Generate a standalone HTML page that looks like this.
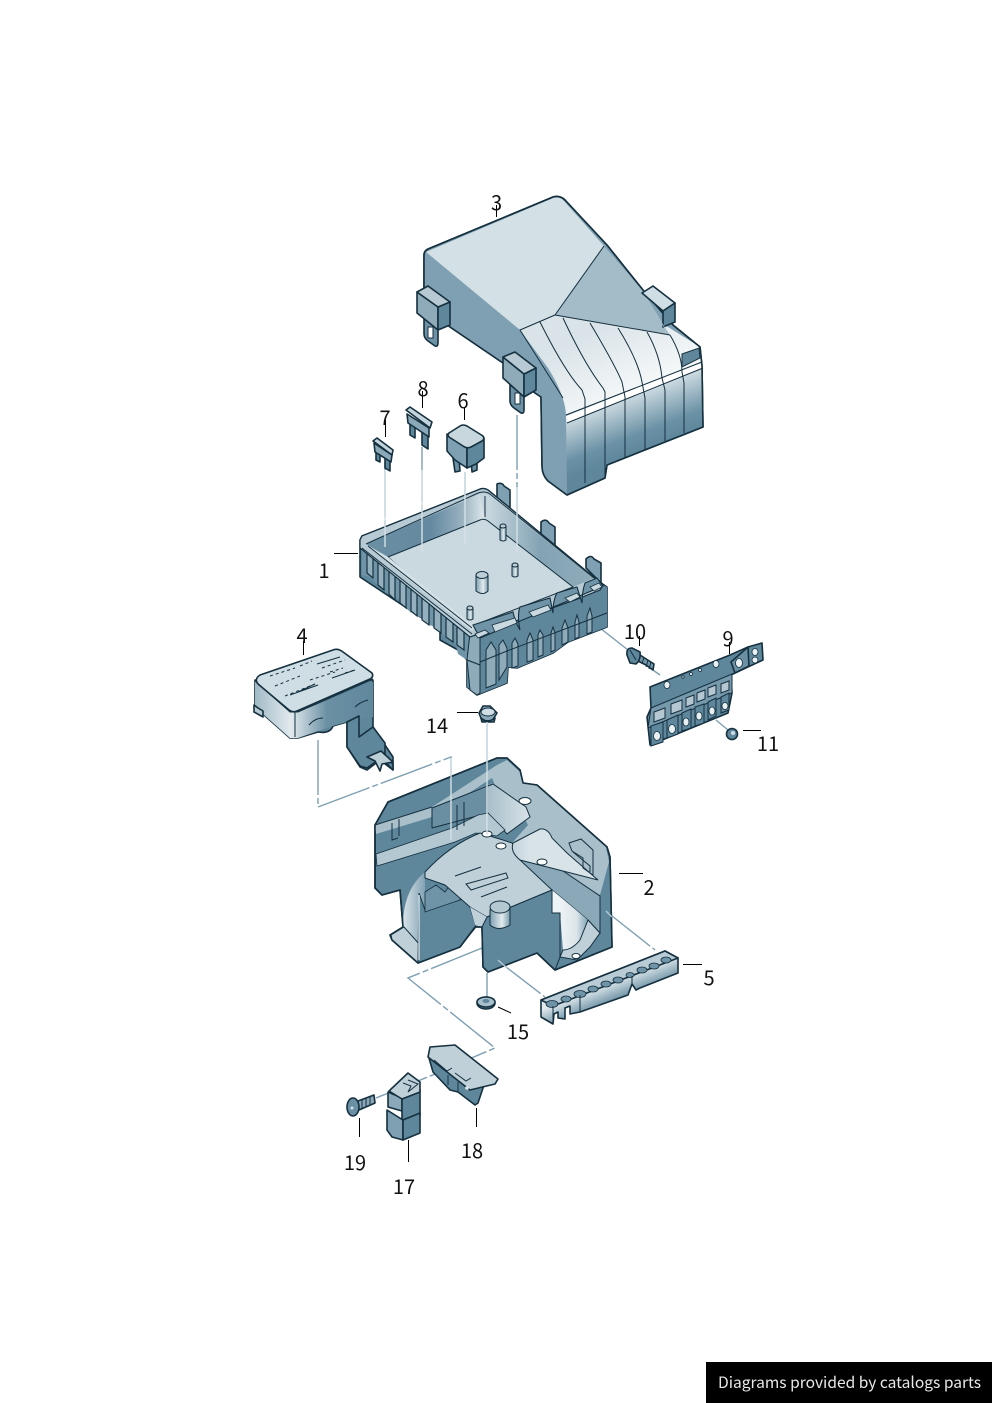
<!DOCTYPE html>
<html><head><meta charset="utf-8"><style>
html,body{margin:0;padding:0;background:#fff}
svg{display:block}
text{font-family:"Noto Sans CJK JP","Liberation Sans",sans-serif;font-size:20px;fill:#111}
.o{stroke:#15303f;stroke-width:1.6;stroke-linejoin:round}
.t{stroke:#15303f;stroke-width:1;fill:none}
.l{stroke:#000;stroke-width:1;fill:none}
.d{stroke:#7ea0b3;stroke-width:1.4;fill:none;stroke-dasharray:55 3 6 3}
.h{stroke:#d5e1e7;stroke-width:1.4;fill:none}
</style></head><body>
<svg width="992" height="1403" viewBox="0 0 992 1403" xmlns="http://www.w3.org/2000/svg">
<defs>
<linearGradient id="rib" gradientUnits="userSpaceOnUse" x1="625" y1="388" x2="648" y2="448"><stop offset="0" stop-color="#e6edf0"/><stop offset=".75" stop-color="#6a91a5"/><stop offset="1" stop-color="#5f879c"/></linearGradient>
<linearGradient id="ribt" gradientUnits="userSpaceOnUse" x1="590" y1="330" x2="625" y2="395"><stop offset="0" stop-color="#d9e3e8"/><stop offset="1" stop-color="#f4f7f8"/></linearGradient>
<linearGradient id="wall1" gradientUnits="userSpaceOnUse" x1="365" y1="0" x2="485" y2="0"><stop offset="0" stop-color="#6b8fa2"/><stop offset=".55" stop-color="#6489a0"/><stop offset=".8" stop-color="#96b0be"/><stop offset="1" stop-color="#dfe8ec"/></linearGradient>
<linearGradient id="wall2" gradientUnits="userSpaceOnUse" x1="490" y1="0" x2="590" y2="0"><stop offset="0" stop-color="#c5d5dd"/><stop offset=".5" stop-color="#83a3b4"/><stop offset="1" stop-color="#8eabba"/></linearGradient>
<linearGradient id="pkt" gradientUnits="userSpaceOnUse" x1="440" y1="0" x2="530" y2="0"><stop offset="0" stop-color="#668c9f"/><stop offset=".55" stop-color="#a9c0cb"/><stop offset="1" stop-color="#d8e3e8"/></linearGradient>
<linearGradient id="arc" gradientUnits="userSpaceOnUse" x1="400" y1="0" x2="430" y2="0"><stop offset="0" stop-color="#e3ebef"/><stop offset="1" stop-color="#6f94a7"/></linearGradient>
<linearGradient id="arc2" gradientUnits="userSpaceOnUse" x1="560" y1="0" x2="590" y2="0"><stop offset="0" stop-color="#eef3f5"/><stop offset=".55" stop-color="#dbe5ea"/><stop offset="1" stop-color="#7397aa"/></linearGradient>
<linearGradient id="cyl" x1="0" x2="1" y1="0" y2="0"><stop offset="0" stop-color="#7fa0b1"/><stop offset=".6" stop-color="#e3ebee"/><stop offset="1" stop-color="#7b9cae"/></linearGradient>
<linearGradient id="s4" gradientUnits="userSpaceOnUse" x1="255" y1="0" x2="375" y2="0"><stop offset="0" stop-color="#a2bac6"/><stop offset=".3" stop-color="#e2eaee"/><stop offset=".6" stop-color="#6b90a4"/><stop offset="1" stop-color="#5f879c"/></linearGradient>
<linearGradient id="s5" gradientUnits="userSpaceOnUse" x1="600" y1="986" x2="608" y2="1006"><stop offset="0" stop-color="#e2eaee"/><stop offset="1" stop-color="#5f879c"/></linearGradient>
</defs>

<!-- connector lines under parts -->
<g>
<path class="d" d="M385 462V548M422 447V553M465 472V545M517 415V553"/>
<path class="d" d="M318 740V807L451 757V840"/>
<path class="d" d="M600 628L628 650M650 668L660 675M716 720L728 730"/>
<path class="d" d="M487 722V837"/>
<path class="d" d="M487 973V998M497 960L545 997M607 912L655 950"/>
<path class="d" d="M482 948L408 978L495 1048L462 1062"/>
<path class="d" d="M376 1098L445 1070"/>
</g>

<!-- PART 3 cover -->
<g>
<path class="o" fill="#7fa0b2" d="M424 255Q424 251 428 249L553 197Q560 195 565 200L607 245L643 290L673 325L700 347L702 366L703 427L607 465L605 478L567 495L548 481Q542 475 542 466L541 397L535 393L503 363L450 327L424 305Z"/>
<path fill="#d3e0e6" d="M426 252L553 198Q560 196 564 201L604 246L555 315L520 330Z"/>
<path fill="#a4bbc8" d="M604 246L643 291L670 335L555 315Z"/>
<path fill="#7fa0b2" d="M424 255L520 330L563 398L566 417L567 494L548 481Q542 475 542 466L541 397L535 393L503 363L450 327L424 305Z"/>
<path fill="url(#ribt)" d="M520 330L555 315L670 335L660 322L700 347L702 362L566 415Q565 395 548 368Z"/>
<path fill="url(#rib)" d="M566 417L702 363L703 427L607 465L605 478L567 495Z"/>
<path fill="#fff" d="M566 416L702 362L703 368L567 423Z"/>
<path fill="#5f879c" class="t" d="M682 354L699 348L700 358L682 367Z" style="fill:#5f879c"/>
<g class="t">
<path d="M540 322Q565 372 582 390L585 399V483M563 318Q585 365 603 388L605 392V476M590 323Q615 365 622 382L625 397V458M618 328Q638 360 642 382L645 398V450M647 332Q660 355 662 378L665 390V441M670 335Q682 355 682 372L684 383V433"/>
<path d="M566 415L702 362M567 423L703 368"/>
<path d="M604 246L555 315L670 335M555 315L520 330L563 398"/>
</g>
<path class="o" fill="none" d="M424 255Q424 251 428 249L553 197Q560 195 565 200L607 245L643 290L673 325L700 347L702 366L703 427L607 465L605 478L567 495L548 481Q542 475 542 466L541 397L535 393L503 363L450 327L424 305Z"/>
<!-- tab C -->
<path class="o" fill="#cfdde4" d="M642 293L653 286L675 303L663 311Z"/>
<path class="o" fill="#5f879c" d="M663 311L675 303V322L663 327Z"/>
<path d="M643 294L670 335L660 322Z" fill="#a4bbc8"/>
<!-- tab A -->
<path class="o" fill="#6d92a6" d="M424 318V334Q424 338 428 341L435 346Q438 347 438 343V326Z"/>
<rect x="428" y="327" width="5" height="11" class="t" style="fill:#fff"/>
<path class="o" fill="#8fabba" d="M417 292L438 307V330L417 313Z"/>
<path class="o" fill="#5f879c" d="M438 307L450 302V325L438 330Z"/>
<path class="o" fill="#b7cad3" d="M417 292L428 286L450 302L438 307Z"/>
<!-- tab B -->
<path class="o" fill="#6d92a6" d="M510 385V401Q510 405 514 408L521 413Q524 414 524 410V393Z"/>
<rect x="515" y="393" width="5" height="11" class="t" style="fill:#fff"/>
<path class="o" fill="#8fabba" d="M503 357L524 374V397L503 378Z"/>
<path class="o" fill="#5f879c" d="M524 374L536 368V390L524 397Z"/>
<path class="o" fill="#b7cad3" d="M503 357L515 352L536 368L524 374Z"/>
</g>

<!-- fuses / relay -->
<g>
<!-- 7 -->
<path class="o" fill="#5f879c" d="M376 451H380V462L376 460ZM385 458H390V471L385 468Z"/>
<path class="o" fill="#8aa8b8" d="M374 443L392 455L391 462L375 452Z"/>
<path class="o" fill="#c4d4dc" d="M373 441L377 438L393 450L392 455Z"/>
<!-- 8 -->
<path class="o" fill="#5f879c" d="M410 423H415V438L410 435ZM422 432H428V449L422 445Z"/>
<path class="o" fill="#8aa8b8" d="M407 414L429 428V437L408 423Z"/>
<path class="o" fill="#c4d4dc" d="M406 410L410 407L432 422L430 428Z"/>
<!-- 6 -->
<path class="o" fill="#6b90a4" d="M453 458H459L460 471L455 472ZM471 460H477V470L472 472Z"/>
<path class="o" fill="#7fa0b2" d="M447 434V451L455 460L467 468V446Z"/>
<path class="o" fill="#5f879c" d="M467 446L484 438V458L476 464L467 468Z"/>
<path class="o" fill="#c8d7de" d="M449 433L460 426Q463 424 467 426L483 436Q485 439 482 441L471 447Q467 449 463 446L449 437Q447 435 449 433Z"/>
</g>

<!-- PART 1 box -->
<g>
<!-- tabs -->
<path class="o" fill="#7ea0b2" d="M497 500V484Q502 482 504 486L510 490V510Z"/>
<path class="o" fill="#7ea0b2" d="M541 538V522Q546 518 549 523L555 527V546Z"/>
<path class="o" fill="#7ea0b2" d="M586 568V559Q591 554 594 559L601 563V583Z"/>
<!-- whole silhouette -->
<path class="o" fill="#5f879c" d="M360 540L362 536L478 490Q483 487 488 490L597 580L607 587V627L568 642L553 653L517 668L508 667L507 683L477 695L467 687V660L458 650L440 640V630L360 577Z"/>
<!-- left teeth side -->
<path fill="#6f94a7" d="M362 547L472 633V660L467 660L458 654L455 642L445 637L440 630L430 625L420 617L410 612L400 600L390 595L380 587L370 577L362 575Z"/>
<g stroke="#15303f" stroke-width="1.2" fill="#94afbd">
<path d="M367 551L373 556V578L367 573Z"/><path d="M378 560L384 565V590L378 585Z"/><path d="M389 568L395 573V600L389 594Z"/><path d="M400 576L406 581V608L400 603Z"/><path d="M411 584L417 589V616L411 611Z"/><path d="M422 592L429 597V625L422 620Z"/><path d="M434 601L441 606V633L434 628Z"/><path d="M446 610L453 615V642L446 637Z"/><path d="M457 618L464 623V650L457 645Z"/>
</g>
<!-- front dark with pointed ribs -->
<path fill="#5f879c" d="M472 633L603 585L607 587V627L568 642L553 653L517 668L508 667L507 683L477 695L467 687V660L472 660Z"/>
<g stroke="#15303f" stroke-width="1" fill="#8fabba">
<path d="M486 650L491 642L496 650V684L486 688Z"/><path d="M499 645L503 640L507 648V667L499 680Z"/><path d="M512 643L515 638L518 644V666L512 668Z"/><path d="M527 640L530 633L533 640V660L527 662Z"/><path d="M538 635L540 630L543 635V655L538 657Z"/><path d="M551 633L553 627L555 633V650L551 652Z"/><path d="M562 628L565 620L568 628V642L562 645Z"/><path d="M575 622L577 615L579 622V637L575 639Z"/><path d="M587 616L590 608L592 616V632L587 634Z"/>
</g>
<path class="t" d="M480 662L507 651L607 613"/>
<path d="M470 633L480 637V665L467 660Z" fill="#8eabba" stroke="#15303f"/>
<path d="M467 660L470 690L477 695L480 693V665Z" fill="#8eabba" stroke="#15303f"/>
<!-- rim -->
<path fill="#b8cbd4" stroke="#15303f" stroke-width="1.2" d="M360 540L362 536L478 490Q483 487 488 490L597 580L603 585L600 590L575 600L470 637L360 548Z"/>
<!-- inner walls -->
<path fill="url(#wall1)" d="M366 544L480 494L485 519L388 557Z"/>
<path fill="url(#wall2)" d="M487 494L594 578L573 587L485 519L480 494Z"/>
<!-- floor -->
<path fill="#cad9e0" stroke="#15303f" stroke-width="1" d="M388 557L480 520Q484 518 488 521L573 587L472 626L465 624Z"/>
<path d="M366 545L472 631L475 627L388 557Z" fill="#d3e0e6"/>
<path class="t" d="M366 544L476 494Q484 490 490 494L594 578M362 548L472 634M368 546L472 628"/>
<path d="M485 496V517" stroke="#15303f"/>
<!-- stepped front wall -->
<path fill="#6f94a7" stroke="#15303f" stroke-width="1.1" d="M473 625L513 612Q515 622 520 630Q517 615 520 607L550 598L553 613Q553 600 557 593L577 587L582 603Q582 592 585 583L597 578L603 586L480 638Z"/>
<path fill="#cad9e0" d="M492 625L515 618L517 623L495 632ZM529 612L548 605L551 610L533 617ZM565 598L577 593L580 597L570 602ZM590 587L599 583L602 587L594 591ZM475 634L485 630L489 633L478 638Z" stroke="#15303f" stroke-width=".8"/>
<!-- pegs -->
<g stroke="#15303f" fill="url(#cyl)">
<path d="M476 575V591Q483 596 488 591V575Z"/><ellipse cx="482" cy="575" rx="6" ry="3.5" fill="#bdced6"/>
<path d="M500 526V540Q503 542 506 540V526Z"/><ellipse cx="503" cy="526" rx="3" ry="2" fill="#bdced6"/>
<path d="M512 565V576Q515 578 518 576V565Z"/><ellipse cx="515" cy="565" rx="3" ry="2" fill="#bdced6"/>
<path d="M467 608V619Q470 621 473 619V608Z"/><ellipse cx="470" cy="608" rx="3" ry="2" fill="#bdced6"/>
</g>
<path class="h" d="M385 470V547M422 470V553M465 472V545M517 487V553"/>
</g>

<!-- PART 4 -->
<g>
<path class="o" fill="#5f879c" d="M373 727L393 757V770L380 760L367 770L360 767L347 747V722L333 726Q330 734 318 732L298 738H290L255 707V680H373Z"/>
<path fill="url(#s4)" d="M255 681L290 712H298L373 682V717L347 722L333 726L298 738H290L255 707Z"/>
<path class="o" fill="#5f879c" d="M347 722L359 716V737L373 727L385 743V756L393 764V770L381 758L367 768L360 766L347 747Z"/>
<path class="o" fill="#bcced6" d="M367 757L381 751L393 762L382 764L380 771L375 761Z"/>
<path class="o" fill="#b7c9d2" d="M254 705L258 708L263 711V717L254 712Z"/>
<path class="o" fill="#cfdde4" d="M260 675L333 650Q338 648 343 652L372 673Q374 677 370 679L297 711Q293 713 289 710L258 684Q254 679 260 675Z"/>
<path class="t" d="M255 681L290 712H298L373 679M295 712V737M309 725Q315 718 323 718M355 707Q360 702 368 700"/>
<path class="t" stroke-dasharray="3 3" d="M270 676L295 668M275 686L300 676M285 696L315 684M300 666L312 661M322 668L345 660M330 672L343 668M345 673L355 670M310 680L335 672"/>
<path class="t" d="M317 664L340 657M298 692L315 684M332 678L355 670M290 695L318 685"/>
</g>

<!-- PART 9 & 10 & 11 -->
<g>
<path class="o" fill="#5f879c" d="M650 687L730 655L748 647L762 643L763 660L735 673L731 675L732 693L728 713L650 745L647 717L651 708Z"/>
<path class="o" fill="#6b90a4" d="M731 662L748 647L749 666L735 673Z"/>
<path fill="#7699ab" stroke="#15303f" d="M651 708L732 674V693L648 728Z"/>
<g stroke="#15303f" fill="#b5c8d2"><path d="M654 712L665 708V718L654 722Z"/><path d="M671 704L682 700V710L671 714Z"/><path d="M686 698L694 695V704L686 707Z"/><path d="M697 693L705 690V699L697 702Z"/><path d="M708 688L716 685V694L708 697Z"/><path d="M721 684L729 681V690L721 693Z"/></g>
<g stroke="#15303f" fill="#5f879c"><path d="M651 726L663 722V742L651 746Z"/><path d="M667 720L678 715V734L667 738Z"/><path d="M682 713L691 709V728L682 731Z"/><path d="M695 707L704 704V723L695 726Z"/><path d="M708 702L716 698V716L708 720Z"/><path d="M721 697L729 693V710L721 713Z"/></g>
<g fill="#e9f0f3" stroke="#15303f" stroke-width=".8"><ellipse cx="657" cy="736" rx="3.5" ry="4.5"/><ellipse cx="672" cy="729" rx="3.5" ry="4.5"/><ellipse cx="686" cy="722" rx="3" ry="4"/><ellipse cx="699" cy="716" rx="3" ry="4"/><ellipse cx="712" cy="711" rx="3" ry="4"/><ellipse cx="725" cy="706" rx="3" ry="3.500"/><ellipse cx="667" cy="685" rx="3" ry="3.500"/><ellipse cx="716" cy="664" rx="3" ry="3.500"/><ellipse cx="739" cy="663" rx="3.500" ry="4.500"/><ellipse cx="755" cy="652" rx="3" ry="3.500"/><ellipse cx="755" cy="660" rx="3" ry="3"/><circle cx="683" cy="677" r="1.200"/><circle cx="691" cy="674" r="1.500"/><circle cx="700" cy="670" r="1.500"/></g>
<path class="o" fill="#7699ab" d="M640 655L654 664L653 670L646 665L636 660Z"/>
<path class="t" d="M644 657L642 664M648 660L646 667M651 662L649 669"/>
<path class="o" fill="#5f879c" d="M627 655Q626 648 632 648L640 652Q641 660 636 664L630 663Z"/>
<path class="t" d="M630 650L636 660"/>
<circle cx="732" cy="734" r="5.500" class="o" fill="#5f879c"/><circle cx="733" cy="733" r="2" fill="#cfdde4"/>
</g>

<!-- PART 14 -->
<g>
<path class="o" fill="#8aa8b8" d="M479 713L482 721H492L497 713L490 706H483Z"/>
<ellipse cx="488" cy="712" rx="7" ry="4" fill="#cfdde4" stroke="#15303f"/>
<path class="o" fill="#5f879c" d="M481 718Q487 724 495 718L494 722H482Z"/>
</g>

<!-- PART 2 -->
<g>
<path class="o" fill="#5f879c" d="M375 825L388 802L497 758L507 758L520 770L523 783L537 785L607 847L610 857L612 947L555 970L537 953L488 972L483 967L482 927L475 927L460 947L418 963L392 940L390 935L403 927L400 890L382 895L375 888Z"/>
<!-- rim/ledges -->
<path fill="#a9c0cb" d="M375 825L432 807L497 765L507 760L520 772L523 783L537 785L606 847L609 862L600 895L595 892L520 860L512 843L528 825L520 810L495 785L492 778L432 817L376 834Z"/>
<path fill="url(#pkt)" d="M432 808L493 783L526 806L530 817L507 834L488 813L432 828Z"/>
<path fill="#6a8fa3" d="M432 808L488 787L488 813L432 828Z"/>
<path class="t" d="M432 808L493 784L526 807L530 817L507 834L488 813L432 828M375 825L432 807M388 802L497 758M432 808V828"/>
<path fill="#b4c8d2" stroke="#15303f" stroke-width=".8" d="M376 854L452 828L478 815L488 813L505 830L497 836L476 833L455 842L377 866Z"/>
<path class="t" d="M392 823V840L398 838M399 819V836M457 805V830M464 802V826"/>
<!-- arc left -->
<path fill="url(#arc)" d="M403 926Q403 890 425 872L425 915L420 945L392 938Z"/>
<path fill="#bfd0d9" stroke="#15303f" stroke-width="1" d="M391 935L404 927L420 945L475 927L460 947L418 963L392 940Z"/>
<path fill="#5f879c" stroke="#15303f" stroke-width="1" d="M419 893L425 910L470 897L470 907L476 927L460 947L418 963Z"/>
<path fill="#6f94a7" stroke="#15303f" stroke-width=".8" d="M425 892L436 885L445 892L450 885L460 895L460 900L425 912Z"/>
<path class="h" d="M419 895V960"/>
<!-- plate -->
<path fill="#bfd0d9" stroke="#15303f" stroke-width="1" d="M425 872Q450 845 480 833L503 840L512 843L552 890L487 917L470 907L445 885L425 878Z"/>
<path fill="#bfd0d9" d="M470 907L487 917V927H482L475 925Z"/>
<path class="t" d="M455 876L481 867M466 884L506 873L508 878L471 890ZM481 897L507 887"/>
<!-- right end + slope -->
<path fill="#5f879c" d="M600 897L610 865L612 947L557 968L560 957L577 960L590 947L600 933Z"/>
<path fill="#8aa8b8" stroke="#15303f" stroke-width="1" d="M520 860L538 854L600 896V933L588 920L552 890Z"/>
<!-- arc right -->
<path fill="url(#arc2)" d="M552 890L588 920L580 940Q570 950 563 950L560 913L552 913Z"/>
<path fill="#bfd0d9" stroke="#15303f" stroke-width="1" d="M563 950Q572 950 580 940L588 920L600 933L590 947L577 960L560 957Z"/>
<!-- front dark -->
<path fill="#5f879c" stroke="#15303f" stroke-width="1" d="M487 917L552 890V913L560 913V957L555 970L537 953L488 972L483 967L482 927Z"/>
<!-- right pocket -->
<path fill="url(#pkt)" stroke="#15303f" stroke-width="1" d="M513 843L540 829Q548 828 552 838L567 853L598 880L520 860Q510 852 513 843Z"/>
<path class="t" d="M569 843L581 839L593 850V875L583 868V858L572 851Z"/>
<path class="t" d="M573 852L590 866V872"/>
<!-- boss -->
<path fill="url(#cyl)" stroke="#15303f" d="M490 910V925Q498 932 510 925V908Z"/>
<ellipse cx="500" cy="907" rx="10" ry="6" fill="#b4c8d2" stroke="#15303f"/>
<!-- holes -->
<g fill="#fff" stroke="#15303f" stroke-width="1"><ellipse cx="525" cy="801" rx="6" ry="3.500"/><ellipse cx="487" cy="834" rx="5" ry="3"/><ellipse cx="501" cy="846" rx="5" ry="3"/><ellipse cx="542" cy="862" rx="5" ry="3"/><ellipse cx="576" cy="956" rx="4" ry="2.500"/></g>
<path class="o" fill="none" d="M375 825L388 802L497 758L507 758L520 770L523 783L537 785L607 847L610 857L612 947L555 970L537 953L488 972L483 967L482 927L475 927L460 947L418 963L392 940L390 935L403 927L400 890L382 895L375 888Z"/>
<path class="h" d="M487 722V835M451 758V840"/>
<path d="M606 911L612 917M498 960L507 968" stroke="#b9ccd6" stroke-width="1.300"/>
</g>

<!-- PART 5 -->
<g>
<path class="o" fill="url(#s5)" d="M541 1000L665 951L678 958V973L640 988L636 990L632 984L628 995L580 1012L570 1014V1006L565 1008V1019L558 1018V1012L554 1014L553 1024L541 1017Z"/>
<path class="o" fill="#b9ccd6" d="M541 1000L665 951L678 958L553 1006Z"/>
<g fill="#6f94a7" stroke="#15303f" stroke-width=".8"><ellipse cx="552" cy="1004" rx="6" ry="3.500"/><ellipse cx="566" cy="999" rx="5" ry="3"/><ellipse cx="580" cy="994" rx="6" ry="3.500"/><ellipse cx="593" cy="989" rx="5" ry="3"/><ellipse cx="606" cy="984" rx="5" ry="3"/><ellipse cx="618" cy="980" rx="5" ry="3"/><ellipse cx="630" cy="975" rx="4" ry="2.500"/><ellipse cx="642" cy="970" rx="5" ry="3"/><ellipse cx="654" cy="966" rx="5" ry="3"/><ellipse cx="666" cy="960" rx="5" ry="3"/></g>
<path class="t" d="M553 1006V1022M580 995V1012M632 976V984"/>
</g>

<!-- PART 15 -->
<g>
<ellipse cx="486" cy="1003" rx="9" ry="6" class="o" fill="#5f879c"/>
<ellipse cx="486" cy="1002" rx="9" ry="5" class="o" fill="#a9c0cb"/>
<ellipse cx="486" cy="1001" rx="3.500" ry="2" fill="#5f879c"/>
</g>

<!-- PART 18 -->
<g>
<path class="o" fill="#5f879c" d="M429 1058L433 1072L450 1090L458 1092L475 1105L478 1103L484 1085L470 1075Z"/>
<path class="o" fill="#bfd0d9" d="M430 1047L455 1045L498 1079L495 1084L470 1090L428 1057Z"/>
<path class="t" d="M434 1060L447 1071L452 1068M455 1073L466 1081L471 1078"/>
<path class="t" d="M448 1075V1085M458 1082V1092"/>
<circle cx="467" cy="1088" r="1.800" fill="#e0e9ed"/>
</g>

<!-- PART 17 -->
<g>
<path class="o" fill="#8aa8b8" d="M388 1092L402 1098V1111L388 1107Z"/>
<path class="o" fill="#5f879c" d="M402 1098L420 1090V1115L402 1120Z"/>
<path class="o" fill="#7fa0b2" d="M387 1110L403 1120V1140L392 1137L387 1130Z"/>
<path class="o" fill="#5f879c" d="M403 1120L420 1113V1133L403 1140Z"/>
<path class="o" fill="#bfd0d9" d="M389 1091L408 1073L420 1082V1092L402 1099Z"/>
<path class="t" d="M408 1080L418 1084L408 1092L411 1086L403 1083"/>
</g>

<!-- PART 19 -->
<g>
<path class="o" fill="#8aa8b8" d="M358 1101L374 1095L375 1103L359 1110Z"/>
<path class="t" d="M362 1100V1108M366 1098V1106M370 1097V1105"/>
<ellipse cx="353" cy="1107" rx="6" ry="9" class="o" fill="#6b90a4"/>
<circle cx="352" cy="1108" r="1.500" fill="#d5e1e7"/>
</g>

<!-- leader lines -->
<path class="l" d="M496.5 205V217M422.5 391V408M385.5 420V437M464.5 408V420M334 553.5H358M303.5 641V655M639.5 636V646M729.5 642V654M457 712.5H478M743 730.5H761M619 873.5H643M683 964.5H702M498 1007L511 1013M476.5 1108V1127M359.5 1118V1137M408.5 1140V1162"/>

<!-- labels -->
<text x="496.500" y="210" text-anchor="middle">3</text>
<text x="423" y="396" text-anchor="middle">8</text>
<text x="385" y="425" text-anchor="middle">7</text>
<text x="463" y="408" text-anchor="middle">6</text>
<text x="324" y="578" text-anchor="middle">1</text>
<text x="302" y="643" text-anchor="middle">4</text>
<text x="635" y="639" text-anchor="middle">10</text>
<text x="728" y="646" text-anchor="middle">9</text>
<text x="437" y="733" text-anchor="middle">14</text>
<text x="768" y="751" text-anchor="middle">11</text>
<text x="649" y="895" text-anchor="middle">2</text>
<text x="709" y="985" text-anchor="middle">5</text>
<text x="518" y="1039" text-anchor="middle">15</text>
<text x="472" y="1158" text-anchor="middle">18</text>
<text x="355" y="1170" text-anchor="middle">19</text>
<text x="404" y="1194" text-anchor="middle">17</text>

<!-- footer -->
<rect x="706" y="1362" width="286" height="41" fill="#000"/>
<text x="718" y="1388" textLength="263" lengthAdjust="spacingAndGlyphs" style="font-size:15.500px;fill:#e8e8e8">Diagrams provided by catalogs parts</text>
</svg>
</body></html>
